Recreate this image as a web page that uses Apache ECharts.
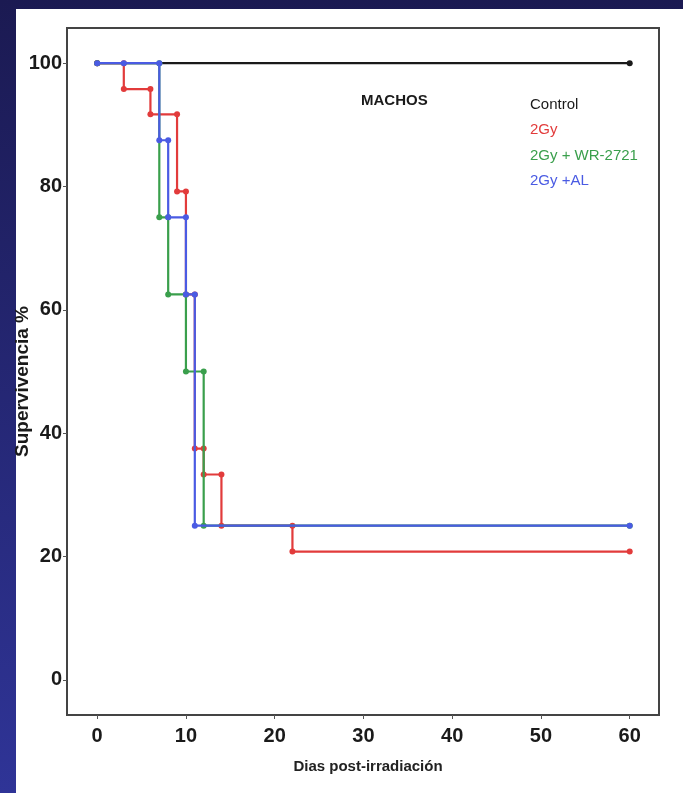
<!DOCTYPE html>
<html>
<head>
<meta charset="utf-8">
<script src="https://cdn.jsdelivr.net/npm/echarts@6/dist/echarts.min.js"></script>
<style>
  html, body { margin: 0; padding: 0; }
  #chart { width: 683px; height: 793px; }
</style>
</head>
<body>
<div id="chart"></div>
<script>
// ticks of both axes
const xTicks = [0, 10, 20, 30, 40, 50, 60];
const yTicks = [0, 20, 40, 60, 80, 100];

// Kaplan-Meier: event days and survival (%) after each day
const controlDays = [0, 60];
const controlSurv = [100, 100];
const gyDays = [0, 3, 6, 9, 10, 11, 12, 14, 22, 60];
const gySurv = [100, 95.8, 91.7, 79.2, 62.5, 37.5, 33.3, 25, 20.8, 20.8];
const wrDays = [0, 7, 8, 10, 12, 60];
const wrSurv = [100, 75, 62.5, 50, 25, 25];
const alDays = [0, 3, 7, 8, 10, 11, 60];
const alSurv = [100, 100, 87.5, 75, 62.5, 25, 25];

const names = ['Control', '2Gy', '2Gy + WR-2721', '2Gy +AL'];
const colors = ['#1a1a1a', '#e23b3b', '#3a9f4c', '#4a5be3'];

const FONT = '"Liberation Sans Narrow", "Liberation Sans", Arial, sans-serif';

// esquinas de la curva escalonada (puntos con marcador)
function steps(days, surv) {
  const pts = [[days[0], surv[0]]];
  for (let i = 1; i < days.length; i++) {
    pts.push([days[i], surv[i - 1]]);
    if (surv[i] !== surv[i - 1]) pts.push([days[i], surv[i]]);
  }
  return pts;
}

const curves = [
  steps(controlDays, controlSurv),
  steps(gyDays, gySurv),
  steps(wrDays, wrSurv),
  steps(alDays, alSurv)
];

const myChart = echarts.init(document.getElementById('chart'));

myChart.setOption({
  animation: false,
  graphic: [
    {
      type: 'rect', z: -20, silent: true,
      shape: { x: 0, y: 0, width: 683, height: 793 },
      style: {
        fill: {
          type: 'linear', x: 0, y: 0, x2: 0, y2: 1,
          colorStops: [{ offset: 0, color: '#1b1a52' }, { offset: 1, color: '#2f3497' }]
        }
      }
    },
    {
      type: 'rect', z: -19, silent: true,
      shape: { x: 16, y: 9, width: 667, height: 784 },
      style: { fill: '#ffffff' }
    },
    {
      type: 'text', left: 361, top: 93,
      style: { text: 'MACHOS', font: 'bold 15px ' + FONT, fill: '#1a1a1a' }
    }
  ],
  legend: {
    orient: 'vertical',
    left: 520,
    top: 91,
    icon: 'rect',
    itemWidth: 0,
    itemHeight: 0,
    itemGap: 8.5,
    data: names.map((n, i) => ({ name: n, textStyle: { color: colors[i] } })),
    textStyle: { fontFamily: FONT, fontSize: 15, lineHeight: 17 }
  },
  grid: {
    left: 67,
    top: 28,
    right: 24,
    bottom: 78,
    containLabel: false,
    outerBoundsMode: 'none',
    show: true,
    borderColor: '#444',
    borderWidth: 2
  },
  xAxis: {
    type: 'value',
    min: -3.4,
    max: 63.3,
    name: 'Dias post-irradiación',
    nameLocation: 'middle',
    nameGap: 44,
    nameTextStyle: {
      fontFamily: FONT, fontSize: 15, fontWeight: 'bold', color: '#222',
      padding: [0, 0, 0, 10]
    },
    axisLine: { show: false, onZero: false },
    splitLine: { show: false },
    axisTick: { show: true, customValues: xTicks, length: 4, lineStyle: { color: '#555' } },
    axisLabel: {
      customValues: xTicks,
      margin: 11,
      fontFamily: FONT, fontSize: 20, fontWeight: 'bold', color: '#1a1a1a'
    }
  },
  yAxis: {
    type: 'value',
    min: -5.7,
    max: 105.7,
    name: 'Supervivencia %',
    nameLocation: 'middle',
    nameRotate: 90,
    nameGap: 35,
    nameMoveOverlap: false,
    nameTextStyle: {
      fontFamily: FONT, fontSize: 19, fontWeight: 'bold', color: '#1a1a1a',
      padding: [0, 20, 0, 0]
    },
    axisLine: { show: false, onZero: false },
    splitLine: { show: false },
    axisTick: { show: true, customValues: yTicks, length: 4, lineStyle: { color: '#555' } },
    axisLabel: {
      customValues: yTicks,
      margin: 5,
      fontFamily: FONT, fontSize: 20, fontWeight: 'bold', color: '#1a1a1a'
    }
  },
  series: curves.map((pts, i) => ({
    name: names[i],
    type: 'line',
    data: pts,
    color: colors[i],
    symbol: 'circle',
    symbolSize: 6,
    showAllSymbol: true,
    lineStyle: { width: 2.2, color: colors[i] },
    itemStyle: { color: colors[i] },
    z: 2 + i
  }))
});
</script>
</body>
</html>
